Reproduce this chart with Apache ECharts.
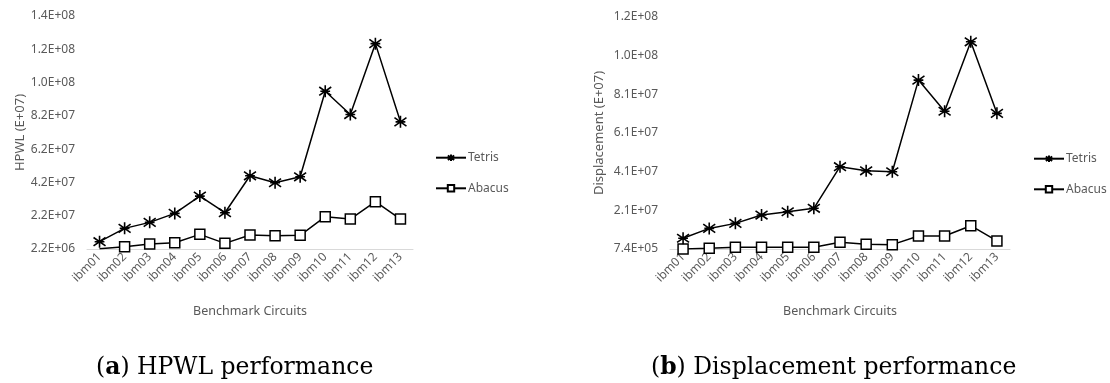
<!DOCTYPE html>
<html>
<head>
<meta charset="utf-8">
<script src="https://cdn.jsdelivr.net/npm/echarts@6/dist/echarts.min.js"></script>
<style>
html,body{margin:0;padding:0;background:#fff;}
#c{width:1110px;height:383px;}
</style>
</head>
<body>
<div id="c"></div>
<script>
const categories = ['ibm01','ibm02','ibm03','ibm04','ibm05','ibm06','ibm07','ibm08','ibm09','ibm10','ibm11','ibm12','ibm13'];
const hpwlTetris = [6.6e6, 1.46e7, 1.82e7, 2.36e7, 3.4e7, 2.4e7, 4.62e7, 4.2e7, 4.56e7, 9.7e7, 8.3e7, 1.256e8, 7.86e7];
const hpwlAbacus = [2.4e6, 3.6e6, 5.2e6, 6.0e6, 1.1e7, 5.6e6, 1.06e7, 1.02e7, 1.04e7, 2.16e7, 2.02e7, 3.06e7, 2.02e7];
const dispTetris = [6.3e6, 1.14e7, 1.4e7, 1.83e7, 2.0e7, 2.18e7, 4.33e7, 4.12e7, 4.07e7, 8.81e7, 7.2e7, 1.079e8, 7.09e7];
const dispAbacus = [7.4e5, 1.1e6, 1.6e6, 1.6e6, 1.6e6, 1.6e6, 4.2e6, 3.2e6, 3.0e6, 7.5e6, 7.5e6, 1.28e7, 4.9e6];
const hpwlAxis = {min: 2.2e6, interval: 2e7, max: 1.422e8};
const dispAxis = {min: 7.4e5, interval: 2e7, max: 1.2074e8};
const seriesNames = ['Tetris', 'Abacus'];
const yTitles = ['HPWL (E+07)', 'Displacement (E+07)'];
const xTitle = 'Benchmark Circuits';

function sci(v) {
  if (v === 0) return '0.0E+00';
  const e = Math.floor(Math.log10(Math.abs(v)) + 1e-9);
  let m = v / Math.pow(10, e);
  let ms = m.toFixed(1);
  let ee = e;
  if (parseFloat(ms) >= 10) { ms = (m / 10).toFixed(1); ee = e + 1; }
  return ms + 'E' + (ee >= 0 ? '+' : '-') + String(Math.abs(ee)).padStart(2, '0');
}

const gray = '#595959';
const font = 'Noto Sans';
const starPath = 'path://M5,0L5,10M0.7,1.5L9.3,8.5M9.3,1.5L0.7,8.5M1.5,5L8.5,5';

function xAxis(gi) {
  return {
    type: 'category', gridIndex: gi, data: categories, boundaryGap: true,
    axisLine: {lineStyle: {color: '#d9d9d9', width: 1}},
    axisTick: {show: false},
    axisLabel: {rotate: 45, color: gray, fontSize: 12, fontFamily: font, margin: 6, interval: 0},
    name: xTitle, nameLocation: 'middle', nameGap: 56,
    nameTextStyle: {color: gray, fontSize: 12.5, fontFamily: font}
  };
}
function yAxis(gi, ax, title, gap) {
  return {
    type: 'value', gridIndex: gi, min: ax.min, max: ax.max, interval: ax.interval,
    splitLine: {show: false}, axisLine: {show: false}, axisTick: {show: false},
    axisLabel: {color: gray, fontSize: 12, fontFamily: font, margin: 12, formatter: v => sci(v)},
    name: title, nameLocation: 'middle', nameRotate: 90, nameGap: gap,
    nameTextStyle: {color: gray, fontSize: 13, fontFamily: font}
  };
}
function tetris(gi, data) {
  return {
    name: seriesNames[0], type: 'line', xAxisIndex: gi, yAxisIndex: gi, data: data,
    symbol: starPath, symbolSize: 12, showAllSymbol: true,
    lineStyle: {color: '#000', width: 1.5},
    itemStyle: {color: '#000', borderColor: '#000', borderWidth: 1.6},
    z: 3
  };
}
function abacus(gi, data, hideFirst) {
  return {
    name: seriesNames[1], type: 'line', xAxisIndex: gi, yAxisIndex: gi,
    data: data.map((v, i) => (hideFirst && i === 0) ? {value: v, symbol: 'none'} : v),
    symbol: 'rect', symbolSize: 10, showAllSymbol: true,
    lineStyle: {color: '#000', width: 1.5},
    itemStyle: {color: '#fff', borderColor: '#000', borderWidth: 1.5},
    z: 2
  };
}
function legend(left, top) {
  return {
    orient: 'vertical', left: left, top: top, itemWidth: 30, itemHeight: 8, itemGap: 18.6,
    padding: 0, data: seriesNames,
    textStyle: {color: gray, fontSize: 12, fontFamily: font, padding: [0, 0, 0, -3]}
  };
}
const capStyle = {fontFamily: 'DejaVu Serif', fontSize: 23.5, fontWeight: 'normal', color: '#000',
  rich: {b: {fontFamily: 'DejaVu Serif', fontSize: 23.5, fontWeight: 'bold', color: '#000'}}};

const chart = echarts.init(document.getElementById('c'), null, {renderer: 'canvas'});
chart.setOption({
  backgroundColor: '#fff',
  animation: false,
  grid: [
    {left: 87, right: 697, top: 16, bottom: 134},
    {left: 670, right: 100, top: 17, bottom: 134}
  ],
  xAxis: [xAxis(0), xAxis(1)],
  yAxis: [yAxis(0, hpwlAxis, yTitles[0], 59), yAxis(1, dispAxis, yTitles[1], 64)],
  legend: [legend(435, 151.7), legend(1033, 152.7)],
  series: [
    tetris(0, hpwlTetris), abacus(0, hpwlAbacus, true),
    tetris(1, dispTetris), abacus(1, dispAbacus, false)
  ],
  title: [
    {text: '({b|a}) HPWL performance', left: 91, top: 351, textStyle: capStyle},
    {text: '({b|b}) Displacement performance', left: 646, top: 351, textStyle: capStyle}
  ]
});
</script>
</body>
</html>
